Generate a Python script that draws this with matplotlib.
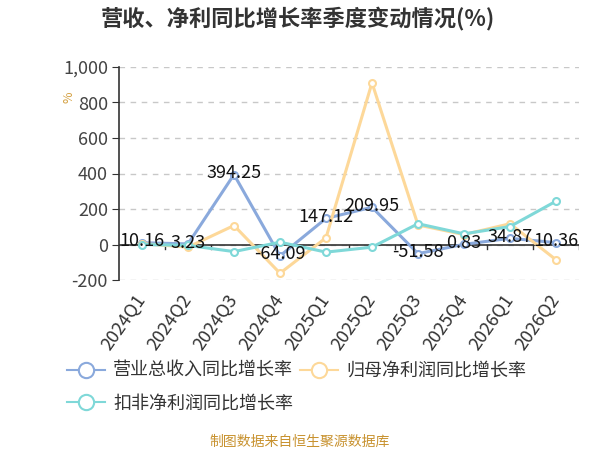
import matplotlib
matplotlib.use("Agg")
import matplotlib.pyplot as plt
from matplotlib.lines import Line2D

plt.rcParams['font.family'] = ['Noto Sans CJK SC', 'DejaVu Sans']

# data
quarters = ["2024Q1", "2024Q2", "2024Q3", "2024Q4", "2025Q1",
            "2025Q2", "2025Q3", "2025Q4", "2026Q1", "2026Q2"]
revenue_yoy = [10.16, 3.23, 394.25, -64.09, 147.12, 209.95, -51.58, 0.83, 34.87, 10.36]
net_profit_yoy = [5, -15, 107, -162, 38, 911, 110, 56, 117, -86]
deducted_profit_yoy = [0, -5, -40, 13, -43, -15, 117, 60, 101, 244]

series_names = ["营业总收入同比增长率", "归母净利润同比增长率", "扣非净利润同比增长率"]
colors = ["#8aa9dc", "#fdd899", "#7fd8d8"]
y_ticks = [-200, 0, 200, 400, 600, 800, 1000]

fig = plt.figure(figsize=(6, 4.5), dpi=100)
ax = fig.add_axes([119 / 600, 1 - 280 / 450, 460 / 600, 213 / 450])

x = list(range(len(quarters)))
all_series = [revenue_yoy, net_profit_yoy, deducted_profit_yoy]
for vals, c, z in zip(all_series, colors, [3, 3, 4]):
    ax.plot(x, vals, color=c, lw=2.2, marker='o', ms=5, mfc='white',
            mec=c, mew=1.5, zorder=z)

# labels on the revenue series
for xi, v in zip(x, revenue_yoy):
    ax.annotate(f"{v:.2f}", (xi, v), xytext=(0, 1), textcoords='offset points',
                ha='center', va='center', fontsize=13, color='#111', zorder=6)

ax.set_xlim(-0.5, len(quarters) - 0.5)
ax.set_ylim(-200, 1000)
ax.set_yticks(y_ticks)
ax.set_yticklabels([f"{t:,}" for t in y_ticks], fontsize=13, color='#444')
ax.grid(axis='y', color='#c8c8c8', ls=(0, (4, 4)), lw=1)
ax.set_axisbelow(True)

for s in ['top', 'right', 'bottom']:
    ax.spines[s].set_visible(False)
ax.spines['left'].set_color('#333')
ax.spines['left'].set_linewidth(1.2)
ax.tick_params(axis='y', length=5, color='#333', pad=3)

# x axis line at zero with band boundary ticks
ax.axhline(0, color='#333', lw=1.2, zorder=2)
for b in range(1, len(quarters) + 1):
    ax.plot([b - 0.5, b - 0.5], [0, -25], color='#333', lw=1, zorder=2)

ax.set_xticks(x)
ax.set_xticklabels(quarters, rotation=55, ha='right', va='center',
                   rotation_mode='anchor', fontsize=13, color='#333')
ax.tick_params(axis='x', length=0, pad=12)

fig.text(69 / 600, 1 - 97 / 450, "%", rotation=90, fontsize=9, color='#d4a040',
         ha='center', va='center')

fig.text(0.497, 1 - 18 / 450, "营收、净利同比增长率季度变动情况(%)", fontsize=16,
         fontweight='bold', color='#333', ha='center', va='center')

handles = [Line2D([0], [0], color=colors[i], lw=1.5, marker='o', ms=11,
                  mfc='white', mec=colors[i], mew=1.5) for i in [0, 2, 1]]
labels = [series_names[i] for i in [0, 2, 1]]
fig.legend(handles, labels, loc='upper left', bbox_to_anchor=(67 / 600, 1 - 362 / 450),
           ncol=2, frameon=False, fontsize=13, handlelength=2.1, handletextpad=0.45,
           columnspacing=0.4, labelspacing=0.8, borderpad=0, borderaxespad=0,
           labelcolor='#333')

fig.text(0.5, 1 - 442 / 450, "制图数据来自恒生聚源数据库", fontsize=10, color='#c8922f',
         ha='center', va='center')

fig.savefig("out.png", dpi=100)
